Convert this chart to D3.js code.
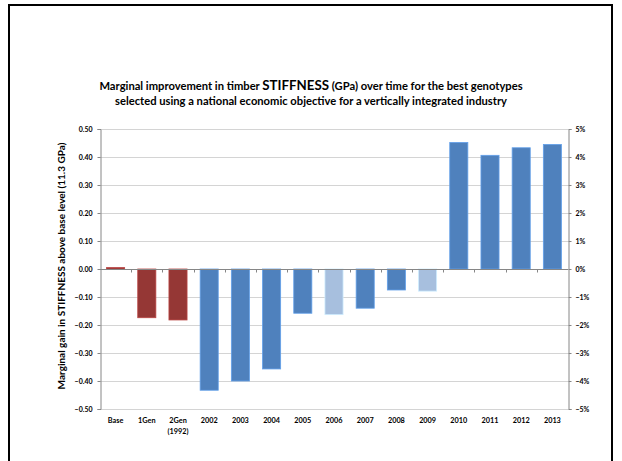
<!DOCTYPE html>
<html>
<head>
<meta charset="utf-8">
<script src="https://cdn.jsdelivr.net/npm/d3@7"></script>
<style>
  html, body { margin: 0; padding: 0; background: #fff; }
  svg { display: block; }
  text { font-family: Lato, "Open Sans", "DejaVu Sans", sans-serif; }
</style>
</head>
<body>
<svg id="chart" width="622" height="461"></svg>
<script>
// Categories along the x axis (label lines)
const categories = ["Base", "1Gen", "2Gen", "2002", "2003", "2004", "2005", "2006", "2007", "2008", "2009", "2010", "2011", "2012", "2013"];
const categoryLabels = [["Base"], ["1Gen"], ["2Gen", "(1992)"], ["2002"], ["2003"], ["2004"], ["2005"], ["2006"], ["2007"], ["2008"], ["2009"], ["2010"], ["2011"], ["2012"], ["2013"]];
// Marginal gain in stiffness (GPa) above the base level
const gains = [0.005, -0.174, -0.182, -0.433, -0.400, -0.357, -0.158, -0.163, -0.140, -0.075, -0.079, 0.452, 0.406, 0.433, 0.445];
// Bar group: historic (red), annual selection (blue), lighter years (pale blue)
const groups = ["hist", "hist", "hist", "main", "main", "main", "main", "light", "main", "main", "light", "main", "main", "main", "main"];
// Axis ticks
const leftTicks = [-0.5, -0.4, -0.3, -0.2, -0.1, 0, 0.1, 0.2, 0.3, 0.4, 0.5];
const rightTicks = [-0.05, -0.04, -0.03, -0.02, -0.01, 0, 0.01, 0.02, 0.03, 0.04, 0.05];

const colors = { hist: "#953735", main: "#4f81bd", light: "#a7bfde" };

const svg = d3.select("#chart");

// Outer frame
svg.append("rect")
  .attr("x", 9).attr("y", 5).attr("width", 603).attr("height", 470)
  .attr("fill", "none").attr("stroke", "#000").attr("stroke-width", 2);

const plot = { left: 100, right: 568, top: 129, bottom: 409 };

const x = d3.scaleBand()
  .domain(categories)
  .range([plot.left, plot.right])
  .paddingInner(0.42)
  .paddingOuter(0.21);

const y = d3.scaleLinear().domain([-0.5, 0.5]).range([plot.bottom, plot.top]);
const yRight = d3.scaleLinear().domain([-0.05, 0.05]).range([plot.bottom, plot.top]);

// Horizontal gridlines
svg.append("g")
  .selectAll("line")
  .data(leftTicks)
  .join("line")
  .attr("x1", plot.left).attr("x2", plot.right)
  .attr("y1", d => Math.round(y(d)) + 0.5).attr("y2", d => Math.round(y(d)) + 0.5)
  .attr("stroke", "#d4d4d4").attr("stroke-width", 1);

// Bars
svg.append("g")
  .selectAll("rect")
  .data(categories)
  .join("rect")
  .attr("x", d => x(d))
  .attr("width", x.bandwidth())
  .attr("y", (d, i) => y(Math.max(0, gains[i])))
  .attr("height", (d, i) => Math.abs(y(gains[i]) - y(0)))
  .attr("fill", (d, i) => colors[groups[i]])
  .attr("stroke", (d, i) => d3.color(colors[groups[i]]).brighter(0.6))
  .attr("stroke-width", 0.8);

// Category axis along zero
const zeroY = Math.round(y(0)) + 0.5;
svg.append("line")
  .attr("x1", plot.left).attr("x2", plot.right)
  .attr("y1", zeroY).attr("y2", zeroY)
  .attr("stroke", "#868686").attr("stroke-width", 1);
svg.append("g")
  .selectAll("line")
  .data(d3.range(1, categories.length))
  .join("line")
  .attr("x1", i => Math.round(plot.left + i * (plot.right - plot.left) / categories.length) + 0.5)
  .attr("x2", i => Math.round(plot.left + i * (plot.right - plot.left) / categories.length) + 0.5)
  .attr("y1", zeroY).attr("y2", zeroY + 3)
  .attr("stroke", "#868686");

// Left value axis
const leftAxis = svg.append("g")
  .attr("transform", `translate(${plot.left + 0.5},0)`)
  .call(d3.axisLeft(y).tickValues(leftTicks).tickFormat(d3.format(".2f")).tickSize(3).tickPadding(5));
leftAxis.select(".domain").attr("stroke", "#868686");
leftAxis.selectAll(".tick line").attr("stroke", "#868686");
leftAxis.selectAll("text")
  .attr("font-size", 7).attr("font-weight", "bold").attr("fill", "#000")
  .style("font-family", "Lato, sans-serif");

// Right percentage axis
const rightAxis = svg.append("g")
  .attr("transform", `translate(${plot.right + 0.5},0)`)
  .call(d3.axisRight(yRight).tickValues(rightTicks).tickFormat(d3.format(".0%")).tickSize(3).tickPadding(4));
rightAxis.select(".domain").attr("stroke", "#868686");
rightAxis.selectAll(".tick line").attr("stroke", "#868686");
rightAxis.selectAll("text")
  .attr("font-size", 7).attr("font-weight", "bold").attr("fill", "#000")
  .style("font-family", "Lato, sans-serif");

// Category labels below the plot
const labelG = svg.append("g")
  .selectAll("text")
  .data(categories)
  .join("text")
  .attr("x", d => x(d) + x.bandwidth() / 2)
  .attr("y", 423)
  .attr("text-anchor", "middle")
  .attr("font-size", 7.3).attr("font-weight", "bold").attr("fill", "#000");
labelG.each(function(d, i) {
  const t = d3.select(this);
  categoryLabels[i].forEach((line, j) => {
    t.append("tspan").attr("x", x(d) + x.bandwidth() / 2).attr("dy", j === 0 ? 0 : 11).text(line);
  });
});

// Y-axis title
svg.append("text")
  .attr("transform", `translate(65,${(plot.top + plot.bottom) / 2 - 3}) rotate(-90)`)
  .attr("text-anchor", "middle")
  .attr("font-size", 10).attr("font-weight", "bold").attr("fill", "#000")
  .text("Marginal gain in STIFFNESS above base level (11.3 GPa)");

// Chart title
const title = svg.append("text")
  .attr("x", 311).attr("y", 90)
  .attr("text-anchor", "middle")
  .attr("font-size", 11.2).attr("font-weight", "bold").attr("fill", "#000");
title.append("tspan").text("Marginal improvement in timber ");
title.append("tspan").attr("font-size", 13.3).text("STIFFNESS");
title.append("tspan").text(" (GPa) over time for the best genotypes");
svg.append("text")
  .attr("x", 311).attr("y", 105)
  .attr("text-anchor", "middle")
  .attr("font-size", 11.2).attr("font-weight", "bold").attr("fill", "#000")
  .text("selected using a national  economic objective for a vertically integrated industry");
</script>
</body>
</html>
